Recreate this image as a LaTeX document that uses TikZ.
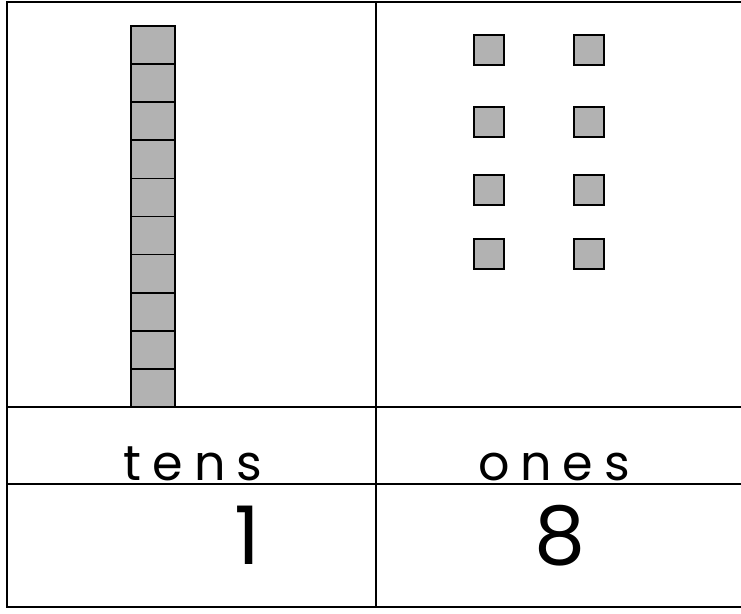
\documentclass[tikz,border=0pt]{standalone}
\usepackage{fontspec}
\setmainfont{Poppins}
\newfontfamily\chartfont[LetterSpace=22]{Poppins}
\usetikzlibrary{calc}

\tikzset{
    rule/.style={line width=1.3pt},
    cube/.style={draw=black, line width=1pt, fill=gray!60},
    wordtext/.style={anchor=base, inner sep=0pt, font=\chartfont\fontsize{28}{30}\selectfont},
    digittext/.style={anchor=base, inner sep=0pt, font=\chartfont\fontsize{46}{50}\selectfont}
}

\begin{document}
\begin{tikzpicture}[x=0.02cm, y=-0.02cm]
    \useasboundingbox (0,0) rectangle (741,613);

    % Corners and dividers of the chart
    \coordinate (TL) at (7,2);
    \coordinate (TR) at (741,2);
    \coordinate (BL) at (7,607);
    \coordinate (BR) at (741,607);
    \coordinate (MidTop) at (376,2);
    \coordinate (MidBot) at (376,607);
    \coordinate (RowA) at (7,407); % under the blocks
    \coordinate (RowB) at (7,484); % under the words

    % Frame (open on the right)
    \draw[rule] (TR) -- (TL) -- (BL) -- (BR);
    \draw[rule] (MidTop) -- (MidBot);
    \draw[rule] (RowA) -- (RowA -| TR);
    \draw[rule] (RowB) -- (RowB -| TR);

    % Tens rod: ten cubes
    \foreach \i in {0,...,9}
        \draw[cube] (131,{26+38.1*\i}) rectangle ++(44,38.1);

    % Ones: eight single cubes
    \foreach \col in {489,589}
        \foreach \row in {50,122,190,254}
            \draw[cube] (\col-15,\row-15) rectangle ++(30,30);

    % Words and digits
    \node[wordtext] (tens) at (193,480) {tens};
    \node[wordtext] (ones) at (554,480) {ones};
    \node[digittext] (tensdigit) at (247,564) {1};
    \node[digittext] (onesdigit) at (560,564) {8};
\end{tikzpicture}
\end{document}
